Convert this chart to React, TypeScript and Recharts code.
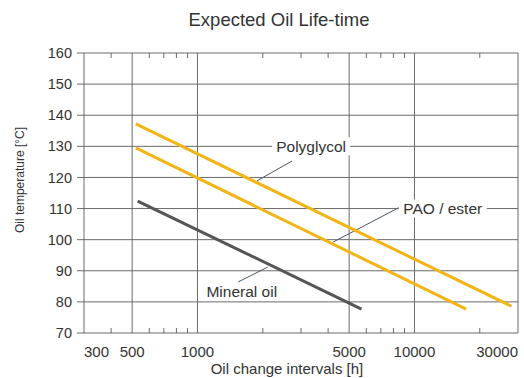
import {
  LineChart,
  Line,
  XAxis,
  YAxis,
  CartesianGrid,
  ReferenceLine,
  ReferenceDot,
  Label,
} from "recharts";

// axis ticks
const xTicks = [300, 500, 1000, 5000, 10000, 30000];
const minorTicks = [400, 600, 700, 800, 900, 2000, 3000, 4000, 6000, 7000, 8000, 9000, 20000];
const yTicks = [70, 80, 90, 100, 110, 120, 130, 140, 150, 160];

// series: oil change interval [h] -> oil temperature [°C]
const polyglycol = [
  { h: 520, t: 137.2 },
  { h: 28000, t: 78.6 },
];
const paoEster = [
  { h: 520, t: 129.5 },
  { h: 17300, t: 77.7 },
];
const mineralOil = [
  { h: 530, t: 112.4 },
  { h: 5700, t: 77.7 },
];

// annotation text anchors and leader lines
const labelNames = ["Polyglycol", "PAO / ester", "Mineral oil"];
const labelAt = [
  { h: 3340, t: 130 },
  { h: 13500, t: 110 },
  { h: 1600, t: 83.2 },
];
const leaderFrom = [
  { h: 2730, t: 125.3 },
  { h: 8580, t: 110.5 },
  { h: 1540, t: 86.4 },
];
const leaderTo = [
  { h: 1880, t: 118.9 },
  { h: 4210, t: 99.2 },
  { h: 2110, t: 91.2 },
];

const FONT = "'Liberation Sans', Arial, Helvetica, sans-serif";
const GRID = "#6a6a6a";
const TEXT = "#333";
const AMBER = "#f2b516";

const labelWidths = [74, 84, 73];
// length of the small inward minor ticks, in °C
const MINOR_LEN = 1.6;

function XTick(props: any) {
  const { x, y, payload } = props;
  const v = payload.value;
  const anchor = v === 300 ? "start" : v === 30000 ? "end" : "middle";
  return (
    <text
      x={x}
      y={y + 19}
      dy="0.355em"
      textAnchor={anchor}
      fontSize={15}
      fill={TEXT}
      fontFamily={FONT}
    >
      {v}
    </text>
  );
}

function annotation(i: number) {
  return (props: any) => {
    const { viewBox } = props;
    const cx = viewBox.x + (viewBox.width || 0) / 2;
    const cy = viewBox.y + (viewBox.height || 0) / 2;
    const w = labelWidths[i];
    return (
      <g>
        <rect x={cx - w / 2 - 2} y={cy - 9} width={w + 4} height={18} fill="#fff" />
        <text
          x={cx}
          y={cy}
          dy="0.355em"
          textAnchor="middle"
          fontSize={15.5}
          fill={TEXT}
          fontFamily={FONT}
        >
          {labelNames[i]}
        </text>
      </g>
    );
  };
}

export default function App() {
  return (
    <div
      style={{
        position: "absolute",
        left: 0,
        top: 0,
        width: 524,
        height: 378,
        overflow: "hidden",
        background: "#fff",
        fontFamily: FONT,
      }}
    >
      <div
        style={{
          position: "absolute",
          left: 129,
          top: 8,
          width: 300,
          textAlign: "center",
          fontSize: 18.5,
          color: TEXT,
          lineHeight: "24px",
        }}
      >
        Expected Oil Life-time
      </div>
      <LineChart width={524} height={378} margin={{ top: 53, right: 6, bottom: 5, left: 0 }}>
        <CartesianGrid stroke={GRID} strokeWidth={1} />
        <XAxis
          dataKey="h"
          type="number"
          scale="log"
          domain={[300, 30000]}
          allowDataOverflow
          ticks={xTicks}
          interval={0}
          height={40}
          tickLine={false}
          axisLine={false}
          tickSize={0}
          tickMargin={0}
          tick={<XTick />}
        >
          <Label
            content={(p: any) => (
              <text
                x={p.viewBox.x + p.viewBox.width / 2 - 14}
                y={p.viewBox.y + 36}
                dy="0.355em"
                textAnchor="middle"
                fontSize={15}
                fill={TEXT}
                fontFamily={FONT}
              >
                Oil change intervals [h]
              </text>
            )}
          />
        </XAxis>
        <YAxis
          type="number"
          domain={[70, 160]}
          ticks={yTicks}
          interval={0}
          width={84}
          axisLine={false}
          tickSize={7}
          tickMargin={5}
          tickLine={{ stroke: GRID }}
          tick={{ fontSize: 14.5, fill: TEXT, fontFamily: FONT }}
        >
          <Label
            content={(p: any) => {
              const x = p.viewBox.x + 20;
              const y = p.viewBox.y + p.viewBox.height / 2 - 13;
              return (
                <text
                  x={x}
                  y={y}
                  transform={`rotate(-90 ${x} ${y})`}
                  dy="0.355em"
                  textAnchor="middle"
                  fontSize={12}
                  fill={TEXT}
                  fontFamily={FONT}
                >
                  Oil temperature [°C]
                </text>
              );
            }}
          />
        </YAxis>

        {minorTicks.map((m) => (
          <ReferenceLine
            key={"mb" + m}
            segment={[
              { x: m, y: 70 },
              { x: m, y: 70 + MINOR_LEN },
            ]}
            stroke={GRID}
            strokeWidth={1}
          />
        ))}
        {minorTicks.map((m) => (
          <ReferenceLine
            key={"mt" + m}
            segment={[
              { x: m, y: 160 },
              { x: m, y: 160 - MINOR_LEN },
            ]}
            stroke={GRID}
            strokeWidth={1}
          />
        ))}

        {labelNames.map((n, i) => (
          <ReferenceLine
            key={"leader" + n}
            segment={[leaderFrom[i], leaderTo[i]].map((p) => ({ x: p.h, y: p.t }))}
            stroke="#4d5560"
            strokeWidth={1}
          />
        ))}

        <Line
          data={polyglycol}
          dataKey="t"
          type="linear"
          stroke={AMBER}
          strokeWidth={3}
          dot={false}
          isAnimationActive={false}
        />
        <Line
          data={paoEster}
          dataKey="t"
          type="linear"
          stroke={AMBER}
          strokeWidth={3}
          dot={false}
          isAnimationActive={false}
        />
        <Line
          data={mineralOil}
          dataKey="t"
          type="linear"
          stroke="#555"
          strokeWidth={3}
          dot={false}
          isAnimationActive={false}
        />

        {labelNames.map((n, i) => (
          <ReferenceDot
            key={"label" + n}
            x={labelAt[i].h}
            y={labelAt[i].t}
            r={0}
            fill="none"
            stroke="none"
            label={{ content: annotation(i) }}
          />
        ))}
      </LineChart>
    </div>
  );
}
